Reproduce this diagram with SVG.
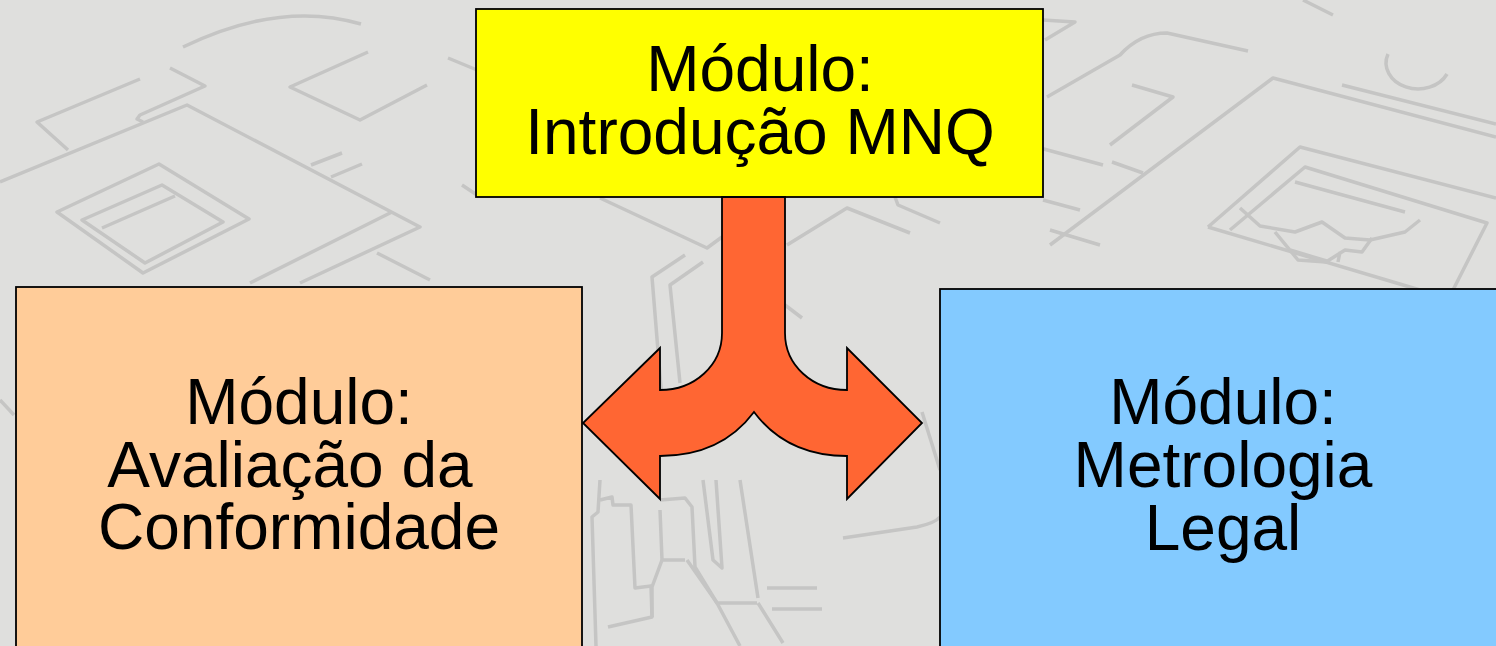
<svg xmlns="http://www.w3.org/2000/svg" width="1496" height="646" viewBox="0 0 1496 646">
  <style>
    .bg { fill: none; stroke: #c5c5c4; stroke-width: 3.5; stroke-linejoin: round; }
    .box { stroke: #000; stroke-width: 1.8; }
    .lbl { font-family: "Liberation Sans", Arial, sans-serif; font-size: 64px; fill: #000; text-anchor: middle; }
    .conn { fill: #ff6633; stroke: #000; stroke-width: 1.8; stroke-linejoin: miter; }
  </style>
  <rect x="0" y="0" width="1496" height="646" fill="#dfdfdd"/>
  <g id="background">
    <path class="bg" d="M183,47 Q280,0 361,24"/>
    <path class="bg" d="M140,79 L37,122 L68,150"/>
    <path class="bg" d="M170,68 L205,86 L140,115 L137,119 L143,122"/>
    <path class="bg" d="M0,182 L187,105 L420,227 L300,283"/>
    <path class="bg" d="M392,212 L250,283"/>
    <path class="bg" d="M377,253 L430,280"/>
    <path class="bg" d="M311,165 L342,153 M331,177 L362,164"/>
    <path class="bg" d="M57,212 L159,164 L249,219 L143,273 Z"/>
    <path class="bg" d="M82,220 L162,185 L223,222 L145,263 Z M102,228 L175,196"/>
    <path class="bg" d="M368,52 L290,87 L360,120 L427,85"/>
    <path class="bg" d="M448,58 L477,70 M462,185 L477,195"/>
    <path class="bg" d="M1047,97 L1120,55 Q1140,33 1167,33 L1248,51"/>
    <path class="bg" d="M1132,85 L1173,97 L1110,145"/>
    <path class="bg" d="M1050,245 L1273,78 L1496,137"/>
    <path class="bg" d="M1342,85 L1496,124"/>
    <path class="bg" d="M1388,54 A32,26 0 0 0 1447,74"/>
    <path class="bg" d="M1303,0 L1333,15"/>
    <path class="bg" d="M1208,227 L1300,147 L1496,198"/>
    <path class="bg" d="M1208,227 L1420,290"/>
    <path class="bg" d="M1230,230 L1305,167 L1487,223 L1453,290"/>
    <path class="bg" d="M1295,182 L1405,212"/>
    <path class="bg" d="M1240,208 L1260,226 L1295,232 L1322,222 L1345,238 L1370,240 L1405,232 L1420,220"/>
    <path class="bg" d="M1275,232 L1298,260 L1326,262 L1345,250 L1362,252 L1372,238 M1290,250 L1330,262 M1338,262 L1340,252"/>
    <path class="bg" d="M1040,148 L1103,165 M1112,162 L1143,173"/>
    <path class="bg" d="M1043,200 L1080,210 M1050,230 L1100,245"/>
    <path class="bg" d="M1043,20 L1075,22 L1045,40"/>
    <path class="bg" d="M600,198 L707,248 L722,237"/>
    <path class="bg" d="M685,255 L652,277 L662,400 M660,510 L662,560"/>
    <path class="bg" d="M703,262 L670,285 L680,383"/>
    <path class="bg" d="M787,245 L847,208 L910,233"/>
    <path class="bg" d="M785,305 L802,318"/>
    <path class="bg" d="M895,197 L898,205 L940,223"/>
    <path class="bg" d="M922,412 L940,470"/>
    <path class="bg" d="M600,480 L598,512 L592,517 L596,646"/>
    <path class="bg" d="M600,500 L612,497 L613,505 L631,505 L635,588 L651,586 L652,617 L608,627"/>
    <path class="bg" d="M660,500 L685,498 L692,507 L695,567 L717,603 L757,603 M662,560 L685,560 M662,560 L652,587 L652,617"/>
    <path class="bg" d="M687,560 L717,603 L740,646 M758,603 L783,643"/>
    <path class="bg" d="M703,480 L713,560 L722,568 L716,480"/>
    <path class="bg" d="M740,480 L758,598"/>
    <path class="bg" d="M767,588 L817,588 M772,609 L822,609"/>
    <path class="bg" d="M843,538 L917,527 Q935,523 940,517"/>
    <path class="bg" d="M0,400 L14,415"/>
  </g>
  <g id="node-introducao">
    <rect class="box" x="476" y="9" width="567" height="188" fill="#ffff00"/>
    <text class="lbl" x="760" y="91">Módulo:</text>
    <text class="lbl" x="760" y="154">Introdução MNQ</text>
  </g>
  <g id="node-avaliacao">
    <rect class="box" x="16" y="287" width="566" height="370" fill="#ffcc99"/>
    <text class="lbl" x="299" y="424">Módulo:</text>
    <text class="lbl" x="290" y="487">Avaliação da</text>
    <text class="lbl" x="299" y="549">Conformidade</text>
  </g>
  <g id="node-metrologia">
    <rect class="box" x="940" y="289" width="570" height="370" fill="#83caff"/>
    <text class="lbl" x="1223" y="424">Módulo:</text>
    <text class="lbl" x="1223" y="487">Metrologia</text>
    <text class="lbl" x="1223" y="550">Legal</text>
  </g>
  <g id="connectors">
    <path class="conn" d="M722,197 L785,197 L785,333 C785,365 812,390 847,390 L847,348 L922,423 L847,499 L847,456 C805,456 775,440 754,412 C733,440 703,456 660,456 L660,499 L583,423 L660,348 L660,390 C695,390 722,365 722,333 Z"/>
  </g>
</svg>
